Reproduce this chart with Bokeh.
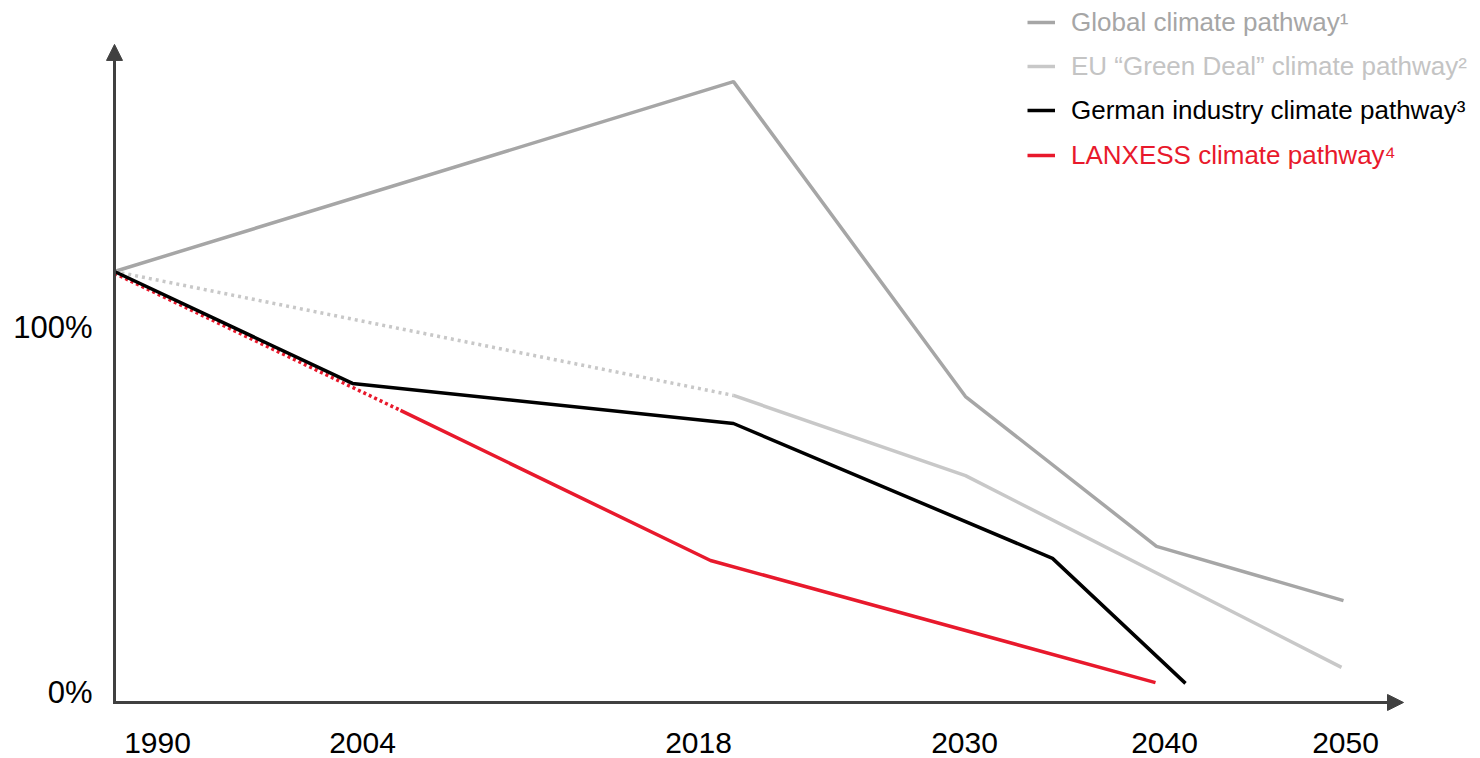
from bokeh.plotting import figure
from bokeh.models import (Range1d, FixedTicker, Arrow, NormalHead, Legend,
                          LegendItem, ColumnDataSource)
from bokeh.embed import file_html
from bokeh.resources import INLINE
from bokeh.core.properties import value

# Schematic timeline positions (x) and emission index in % (y)
global_x = [0, 61.9, 85.1, 104.2, 122.9]
global_y = [115.5, 167.6, 81.2, 40.1, 25.2]

eu_dotted_x = [0, 61.9]
eu_dotted_y = [115.5, 81.5]
eu_x = [61.9, 85.1, 122.7]
eu_y = [81.5, 59.5, 6.9]

german_x = [0, 23.8, 61.9, 93.8, 107.1]
german_y = [115.5, 84.8, 73.8, 36.8, 2.5]

lanxess_dotted_x = [0, 28.6]
lanxess_dotted_y = [115.0, 77.4]
lanxess_x = [28.6, 59.6, 104.1]
lanxess_y = [77.4, 36.2, 2.7]

x_tick_pos = [4.3, 24.8, 58.4, 85.0, 105.0, 123.1]
x_tick_labels = ["1990", "2004", "2018", "2030", "2040", "2050"]
y_ticks = [0, 100]
y_tick_labels = ["0%", "100%"]

series_labels = ["Global climate pathway\u00b9",
                 "EU \u201cGreen Deal\u201d climate pathway\u00b2",
                 "German industry climate pathway\u00b3",
                 "LANXESS climate pathway\u2074"]

C_GLOBAL = "#a6a6a6"
C_EU = "#c8c8c8"
C_GER = "#000000"
C_RED = "#e8192c"
C_AXIS = "#404040"
FONT = "Liberation Sans"

W, H = 1480, 758
p = figure(width=W, height=H, output_backend="svg", toolbar_location=None,
           x_range=Range1d(-1.4, 136.6), y_range=Range1d(-18.11, 189.85),
           x_axis_location=None, y_axis_location="left",
           min_border_left=100, min_border_right=0, min_border_top=0,
           min_border_bottom=0)
p.outline_line_color = None
p.grid.visible = False
p.background_fill_color = "white"
p.border_fill_color = "white"

yax = p.yaxis[0]
yax.ticker = FixedTicker(ticks=y_ticks)
yax.major_label_overrides = {t: l for t, l in zip(y_ticks, y_tick_labels)}
yax.axis_line_color = None
yax.major_tick_line_color = None
yax.minor_tick_line_color = None
yax.major_tick_out = 0
yax.major_tick_in = 0
yax.major_label_standoff = 8
yax.major_label_text_font = FONT
yax.major_label_text_font_size = "31px"
yax.major_label_text_color = "#000000"

# axes arrows
axis_y = -2.74
p.add_layout(Arrow(end=NormalHead(size=16, fill_color=C_AXIS, line_color=C_AXIS),
                   x_start=-0.15, y_start=axis_y, x_end=128.9, y_end=axis_y,
                   line_color=C_AXIS, line_width=3))
p.add_layout(Arrow(end=NormalHead(size=16, fill_color=C_AXIS, line_color=C_AXIS),
                   x_start=0, y_start=axis_y - 0.4, x_end=0, y_end=177.8,
                   line_color=C_AXIS, line_width=3))

# series
LW = 3.5
r_global = p.line(global_x, global_y, line_color=C_GLOBAL, line_width=LW)
p.line(eu_dotted_x, eu_dotted_y, line_color=C_EU, line_width=LW, line_dash="3 4")
r_eu = p.line(eu_x, eu_y, line_color=C_EU, line_width=LW)
p.line(lanxess_dotted_x, lanxess_dotted_y, line_color=C_RED, line_width=LW, line_dash="3 3")
r_red = p.line(lanxess_x, lanxess_y, line_color=C_RED, line_width=LW)
r_ger = p.line(german_x, german_y, line_color=C_GER, line_width=LW)

# x tick labels
lab_src = ColumnDataSource(dict(x=x_tick_pos, y=[-13.99] * len(x_tick_pos),
                                text=x_tick_labels))
p.text(x="x", y="y", text="text", source=lab_src, text_align="center",
       text_baseline="middle", text_font=value(FONT), text_font_size="30px",
       text_color="#000000")

# legends (one per series so each label keeps its own colour)
leg_rows = [(r_global, series_labels[0], C_GLOBAL, 22),
            (r_eu, series_labels[1], "#c4c4c4", 66),
            (r_ger, series_labels[2], "#000000", 110),
            (r_red, series_labels[3], C_RED, 155)]
for rend, lab, col, yc in leg_rows:
    bottom = H - yc - 20
    leg = Legend(items=[LegendItem(label=lab, renderers=[rend])],
                 location=(927, bottom), orientation="vertical",
                 glyph_width=28, glyph_height=40, label_height=40,
                 label_standoff=16, padding=0, margin=0, spacing=0,
                 border_line_color=None, background_fill_alpha=0,
                 label_text_font=FONT, label_text_font_size="26px",
                 label_text_color=col, label_text_baseline="middle")
    p.add_layout(leg, "center")

open("out.html", "w").write(file_html(p, INLINE))
